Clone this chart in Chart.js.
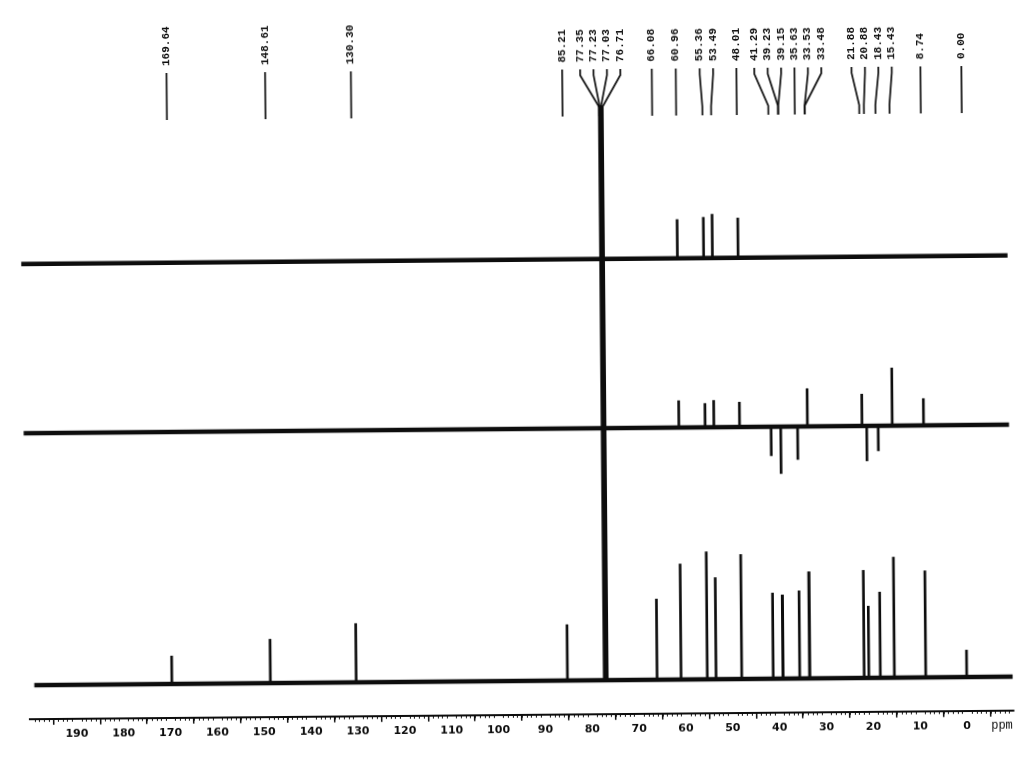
<!DOCTYPE html>
<html>
<head>
<meta charset="utf-8">
<title>13C NMR / DEPT</title>
<script src="https://cdn.jsdelivr.net/npm/chart.js@4/dist/chart.umd.min.js"></script>
<style>
  html, body { margin: 0; padding: 0; background: #fff; overflow: hidden; }
  /* the scanned plot sits slightly tilted */
  #wrap { width: 1024px; height: 768px; transform: rotate(-0.5deg); transform-origin: 512px 384px; }
</style>
</head>
<body>
<div id="wrap"><canvas id="nmr" width="1024" height="768"></canvas></div>
<script>
// peak list printed above the traces (ppm)
const peakLabels = [169.64, 148.61, 130.30, 85.21, 77.35, 77.23, 77.03, 76.71, 66.08, 60.96,
  55.36, 53.49, 48.01, 41.29, 39.23, 39.15, 35.63, 33.53, 33.48, 21.88, 20.88, 18.43, 15.43, 8.74, 0.00];

// bottom trace: broadband 13C (CDCl3 triplet runs off scale)
const c13Shifts = [169.64, 148.61, 130.30, 85.21, 77.35, 77.23, 77.03, 76.71, 66.08, 60.96,
  55.36, 53.49, 48.01, 41.29, 39.23, 39.15, 35.63, 33.53, 33.48, 21.88, 20.88, 18.43, 15.43, 8.74, 0.00];
const c13Heights = [28, 44, 59, 56, 577, 577, 577, 577, 81, 116,
  128, 102, 125, 86, 84, 84, 88, 107, 107, 108, 72, 86, 121, 107, 27];

// middle trace: DEPT-135 (CH2 negative)
const dept135Shifts = [60.96, 55.36, 53.49, 48.01, 41.29, 39.23, 35.63, 33.53, 21.88, 20.88, 18.43, 15.43, 8.74];
const dept135Heights = [27, 24, 27, 25, -29, -47, -33, 38, 32, -35, -25, 58, 27];

// top trace: DEPT-90 (CH only)
const dept90Shifts = [60.96, 55.36, 53.49, 48.01];
const dept90Heights = [39, 41, 44, 40];

const xTicksMajor = 10;

const INK = "#0d0d0d";
const AXIS_Y = 718;           // y units are pixels above the axis line
const LABEL_GAP = 13.4;       // min spacing of printed peak labels, px

const traces = [
  { name: "DEPT-90", shifts: dept90Shifts, heights: dept90Heights, offset: 457, span: [201, -9.5] },
  { name: "DEPT-135", shifts: dept135Shifts, heights: dept135Heights, offset: 287, span: [200.8, -9.5] },
  { name: "13C", shifts: c13Shifts, heights: c13Heights, offset: 34, span: [199, -9.8] },
];

/**
 * spread printed labels so neighbours keep at least `gap` px, centring each crowded group
 * @param {number[]} px
 * @param {number} gap
 */
function spreadLabels(px, gap) {
  let groups = px.map((p) => ({ n: 1, sum: p }));
  let merged = true;
  while (merged) {
    merged = false;
    for (let k = 0; k < groups.length - 1; k++) {
      const a = groups[k];
      const b = groups[k + 1];
      const aEnd = a.sum / a.n + ((a.n - 1) / 2) * gap;
      const bStart = b.sum / b.n - ((b.n - 1) / 2) * gap;
      if (bStart - aEnd < gap) {
        groups.splice(k, 2, { n: a.n + b.n, sum: a.sum + b.sum });
        merged = true;
        break;
      }
    }
  }
  const out = [];
  groups.forEach((g) => {
    const c = g.sum / g.n;
    for (let j = 0; j < g.n; j++) out.push(c + (j - (g.n - 1) / 2) * gap);
  });
  return out;
}

const peakLabelPlugin = {
  id: "peakLabels",
  afterDraw(chart) {
    const xs = chart.scales.x;
    const ctx = chart.ctx;

    // minor ticks, 1 ppm
    ctx.save();
    ctx.strokeStyle = INK;
    ctx.lineWidth = 1;
    ctx.beginPath();
    for (let v = Math.ceil(xs.min); v <= xs.max; v++) {
      if (v % xTicksMajor === 0) continue;
      const p = Math.round(xs.getPixelForValue(v)) + 0.5;
      ctx.moveTo(p, xs.top);
      ctx.lineTo(p, xs.top + 3);
    }
    ctx.stroke();

    ctx.fillStyle = INK;
    ctx.font = "12px 'Liberation Mono', monospace";
    ctx.textAlign = "center";
    ctx.textBaseline = "middle";
    ctx.fillText("ppm", chart.chartArea.right - 12, xs.top + 15);

    // printed peak list
    const px = peakLabels.map((v) => xs.getPixelForValue(v));
    const lx = spreadLabels(px, LABEL_GAP);
    ctx.lineWidth = 1.7;
    ctx.font = "bold 11px 'Liberation Mono', monospace";
    ctx.textAlign = "left";
    peakLabels.forEach((v, i) => {
      ctx.beginPath();
      ctx.moveTo(lx[i], 70);
      ctx.lineTo(lx[i], 76);
      ctx.lineTo(px[i], 108);
      ctx.lineTo(px[i], 117);
      ctx.stroke();
      ctx.save();
      ctx.translate(lx[i], 63);
      ctx.rotate(-Math.PI / 2);
      ctx.fillText(v.toFixed(2), 0, 0);
      ctx.restore();
    });
    ctx.restore();
  },
};

const datasets = [];
traces.forEach((t) => {
  datasets.push({
    type: "line",
    label: t.name + " baseline",
    data: t.span.map((x) => ({ x, y: t.offset })),
    borderColor: INK,
    borderWidth: 4.5,
    pointRadius: 0,
    clip: false,
  });
  datasets.push({
    type: "bar",
    label: t.name,
    data: t.shifts.map((s, i) => ({ x: s, y: [t.offset, t.offset + t.heights[i]] })),
    backgroundColor: INK,
    borderWidth: 0,
    barThickness: 2,
    grouped: false,
    clip: false,
  });
});

new Chart(document.getElementById("nmr"), {
  type: "bar",
  data: { datasets },
  options: {
    responsive: false,
    animation: false,
    devicePixelRatio: 1,
    layout: { padding: { left: 27, right: 13, top: 0, bottom: 28 } },
    plugins: { legend: { display: false }, tooltip: { enabled: false } },
    scales: {
      x: {
        type: "linear",
        reverse: true,
        min: -10,
        max: 200,
        offset: false,
        border: { display: true, color: INK, width: 2 },
        grid: { drawOnChartArea: false, drawTicks: true, tickLength: 6, color: INK, lineWidth: 1.5 },
        ticks: {
          stepSize: xTicksMajor,
          autoSkip: false,
          maxRotation: 0,
          padding: 3,
          color: INK,
          font: { family: "'DejaVu Sans', sans-serif", size: 11, weight: "bold" },
          callback: (v) => (v === 200 || v === -10 ? "" : String(v)),
        },
      },
      y: { type: "linear", display: false, min: 0, max: AXIS_Y },
    },
  },
  plugins: [peakLabelPlugin],
});
</script>
</body>
</html>
